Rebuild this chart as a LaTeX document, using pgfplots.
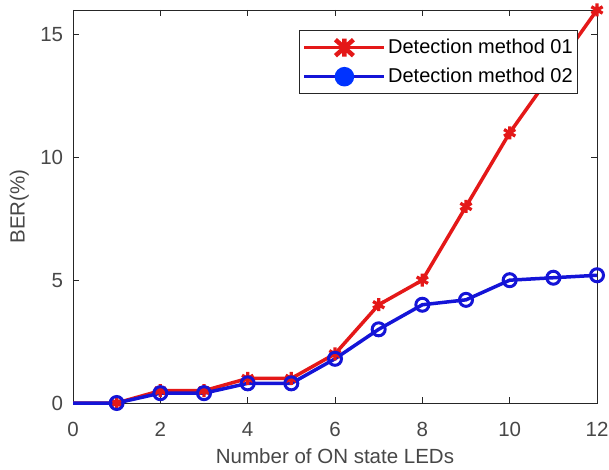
\documentclass[border=0pt]{standalone}
\usepackage{pgfplots}
\pgfplotsset{compat=1.18}
\usepackage{fontspec}
\setmainfont{Liberation Sans}
\definecolor{mred}{RGB}{228,24,24}
\definecolor{mblue}{RGB}{20,20,215}
\definecolor{axgray}{RGB}{38,38,38}
\begin{document}
\fontsize{20}{24}\selectfont
\begin{tikzpicture}
\begin{axis}[
  scale only axis,
  width=524pt, height=393pt,
  xmin=0, xmax=12, ymin=0, ymax=16,
  xtick={0,2,...,12}, ytick={0,5,10,15},
  tick align=inside,
  major tick length=6pt,
  axis line style={axgray, line width=0.8pt},
  every tick/.style={axgray, line width=0.8pt},
  tick label style={font=\fontsize{20.5}{24}\selectfont, text=axgray!85},
  xticklabel style={yshift=-12.5pt},
  yticklabel style={xshift=-3pt},
  /pgf/number format/assume math mode=true,
  xlabel={Number of ON state LEDs},
  ylabel={BER(\%)},
  label style={font=\fontsize{20.5}{24}\selectfont, text=axgray!85},
  xlabel style={yshift=2pt},
  ylabel style={yshift=-2pt},
  legend style={at={(0.964,0.949)}, anchor=north east, draw=axgray, line width=0.8pt,
    fill=white, font=\fontsize{20}{24}\selectfont, row sep=7pt, inner xsep=3pt, inner ysep=6pt},
  legend cell align=left,
  clip=false,
]
\addplot[mred, line width=3.5pt, mark=asterisk, mark size=6.5pt, mark indices={2,...,13}, mark options={line width=3.3pt},
  legend image code/.code={\draw[mred, line width=3.5pt] (0pt,0pt)--(80pt,0pt);
    \draw[mred, line width=4.5pt] (31pt,-8pt)--(49pt,8pt) (31pt,8pt)--(49pt,-8pt) (40pt,-9pt)--(40pt,9pt);}]
coordinates {(0,0) (1,0) (2,0.5) (3,0.5) (4,1) (5,1) (6,2) (7,4) (8,5) (9,8) (10,11) (11,13.5) (12,16)};
\addlegendentry{Detection method 01}
\addplot[mblue, line width=3.5pt, mark=o, mark size=6.5pt, mark indices={2,...,13}, mark options={line width=3pt},
  legend image code/.code={\draw[mblue, line width=3.5pt] (0pt,0pt)--(80pt,0pt);
    \fill[blue!80!cyan] (40pt,0pt) circle (8pt);}]
coordinates {(0,0) (1,0) (2,0.4) (3,0.4) (4,0.8) (5,0.8) (6,1.8) (7,3) (8,4) (9,4.2) (10,5) (11,5.1) (12,5.2)};
\addlegendentry{Detection method 02}
\end{axis}
\pgfresetboundingbox
\path[use as bounding box] ([shift={(-73pt,-67pt)}]current axis.south west) rectangle ([shift={(12pt,10pt)}]current axis.north east);
\end{tikzpicture}
\end{document}
